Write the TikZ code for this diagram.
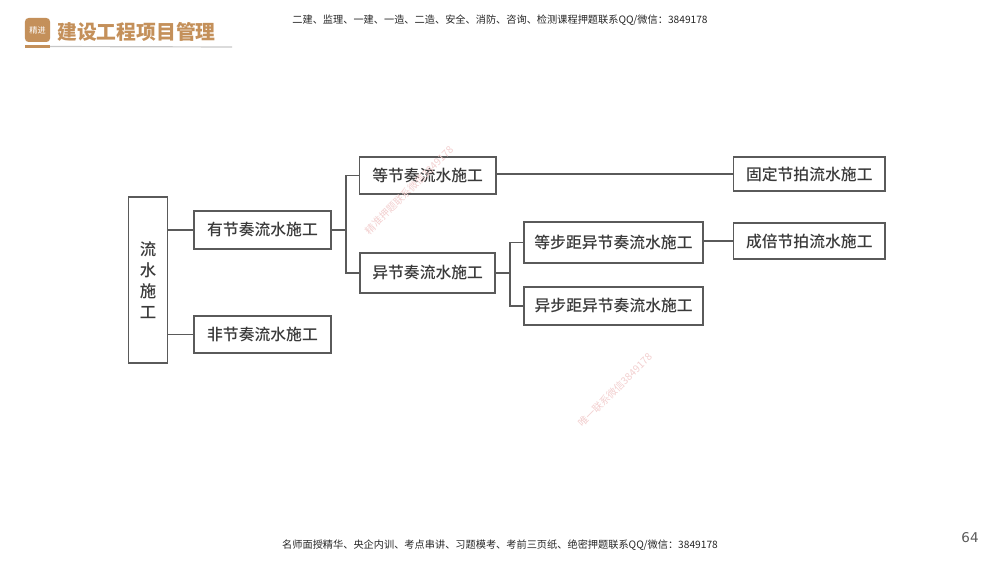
\documentclass[tikz,border=0pt]{standalone}
\usepackage{fontspec}
\setmainfont{Noto Sans CJK SC}
\newfontfamily\boxfont{Noto Sans CJK SC Medium}
\newfontfamily\pagefont{DejaVu Sans}
\definecolor{titletan}{HTML}{C4905A}
\definecolor{boxline}{HTML}{5A5A5A}
\definecolor{boxtext}{HTML}{3A3A3A}
\definecolor{stamp}{HTML}{F2CFCF}
\tikzset{
    boxnode/.style={draw=boxline, line width=1.25pt, inner sep=0pt, text=boxtext, align=center, font=\boxfont\fontsize{13.5pt}{16pt}\selectfont},
    link/.style={draw=boxline, line width=1.1pt},
    notice/.style={inner sep=0pt, text=black!85, font=\fontsize{8.7pt}{10pt}\selectfont},
    stampnote/.style={inner sep=0pt, text=stamp, rotate=45, font=\fontsize{8.6pt}{10pt}\selectfont}
}
\begin{document}
\begin{tikzpicture}[x=0.03cm, y=-0.03cm]
        \useasboundingbox (0,0) rectangle (1000,562);

        % Testata
        \node[fill=titletan, rounded corners=3pt, minimum width=0.75cm, minimum height=0.72cm, inner sep=0pt, text=white, font=\fontsize{7pt}{8pt}\selectfont] (logo) at (37.5,30) {精进};
        \node[inner sep=0pt, text=titletan, font=\fontsize{16.9pt}{20pt}\selectfont\bfseries] (title) at (136.5,31.5) {建设工程项目管理};
        \node[notice] (topnote) at (500,20) {二建、监理、一建、一造、二造、安全、消防、咨询、检测课程押题联系QQ/微信：3849178};
        \coordinate (ruleA) at (25,46.5);
        \coordinate (ruleB) at (50,46.5);
        \coordinate (ruleC) at (232,47);
        \draw[black!22, line width=1pt] (ruleB) -- (ruleC);
        \draw[titletan, line width=2.4pt] (ruleA) -- (ruleB);

        % Nodi
        \node[boxnode, font=\boxfont\fontsize{14pt}{17.9pt}\selectfont, minimum width=1.17cm, minimum height=4.98cm] (flow) at (148,280) {流\\水\\施\\工};
        \node[boxnode, minimum width=4.11cm, minimum height=1.14cm] (rhythm) at (262.5,230) {有节奏流水施工};
        \node[boxnode, minimum width=4.11cm, minimum height=1.11cm] (norhythm) at (262.5,334.5) {非节奏流水施工};
        \node[boxnode, minimum width=4.1cm, minimum height=1.11cm] (equal) at (427.7,175.5) {等节奏流水施工};
        \node[boxnode, minimum width=4.05cm, minimum height=1.2cm] (unequal) at (427.7,273) {异节奏流水施工};
        \node[boxnode, minimum width=5.37cm, minimum height=1.23cm] (samestep) at (613.5,242.5) {等步距异节奏流水施工};
        \node[boxnode, minimum width=5.37cm, minimum height=1.14cm] (diffstep) at (613.7,306) {异步距异节奏流水施工};
        \node[boxnode, minimum width=4.55cm, minimum height=1.02cm] (fixed) at (809.3,174) {固定节拍流水施工};
        \node[boxnode, minimum width=4.55cm, minimum height=1.08cm] (multiple) at (809.3,241) {成倍节拍流水施工};

        \coordinate (forkA) at (346,230);
        \coordinate (forkB) at (510,273);

        % Archi
        \draw[link] (flow.east |- rhythm) -- (rhythm);
        \draw[link] (flow.east |- norhythm) -- (norhythm);
        \draw[link] (rhythm) -- (forkA);
        \draw[link] (equal.west) -| (forkA) |- (unequal.west);
        \draw[link] (unequal) -- (forkB);
        \draw[link] (samestep.west) -| (forkB) |- (diffstep.west);
        \draw[link] (equal.east |- fixed) -- (fixed);
        \draw[link] (samestep.east |- multiple) -- (multiple);

        % Timbri e piede
        \node[stampnote] (stampA) at (409,190) {精准押题联系微信3849178};
        \node[stampnote] (stampB) at (615,390) {唯一联系微信3849178};
        \node[notice] (bottomnote) at (500,545) {名师面授精华、央企内训、考点串讲、习题模考、考前三页纸、绝密押题联系QQ/微信：3849178};
        \node[inner sep=0pt, text=black!65, font=\fontsize{11.5pt}{13pt}\pagefont] (pagenum) at (970,538) {64};
    \end{tikzpicture}
\end{document}
